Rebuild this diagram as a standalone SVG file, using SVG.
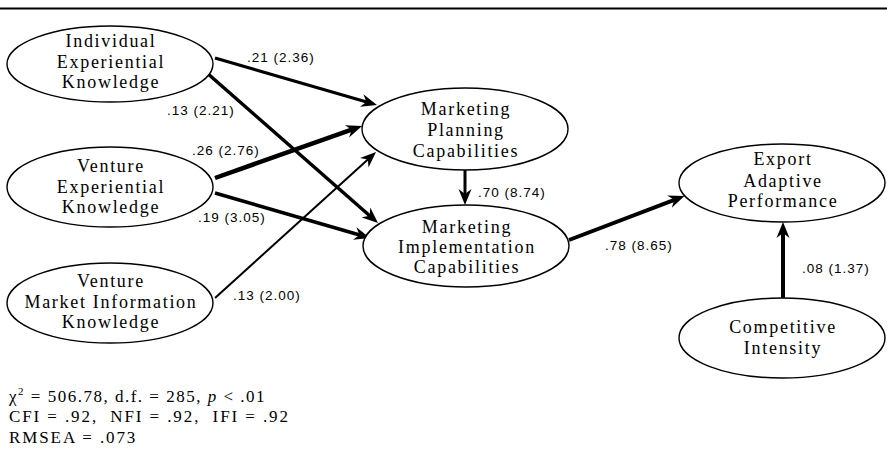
<svg xmlns="http://www.w3.org/2000/svg" width="887" height="450" viewBox="0 0 887 450">
  <style>
    .node ellipse { fill: #fff; stroke: #000; stroke-width: 1.4; }
    .node text { font-family: "Liberation Serif", "Times New Roman", serif; font-size: 18px; letter-spacing: 1.7px; text-anchor: middle; fill: #000; }
    .edge { stroke: #000; fill: none; marker-end: url(#head); }
    .coef { font-family: "Liberation Sans", Arial, sans-serif; font-size: 13.5px; letter-spacing: 1px; fill: #000; }
    .fit { font-family: "Liberation Serif", "Times New Roman", serif; font-size: 17px; letter-spacing: 1.9px; fill: #000; white-space: pre; }
    .fit.chi { letter-spacing: 1.5px; }
  </style>
  <defs>
    <marker id="head" viewBox="0 -7 17 14" refX="8" refY="0" markerWidth="17" markerHeight="14" markerUnits="userSpaceOnUse" orient="auto">
      <path d="M16,0 L0,-6.5 L5,0 L0,6.5 Z" fill="#000"/>
    </marker>
  </defs>

  <rect width="887" height="450" fill="#fff"/>
  <line x1="0" y1="8.5" x2="887" y2="8.5" stroke="#000" stroke-width="2"/>

  <!-- paths between constructs -->
  <g id="connectors">
    <line class="edge" x1="215" y1="58" x2="369.3" y2="102.8" stroke-width="3"/>
    <line class="edge" x1="207" y1="73" x2="372" y2="217.7" stroke-width="3.5"/>
    <line class="edge" x1="215" y1="178" x2="354.5" y2="128.7" stroke-width="4.5"/>
    <line class="edge" x1="215" y1="193" x2="362.3" y2="235.8" stroke-width="3.5"/>
    <line class="edge" x1="215" y1="298" x2="370.1" y2="157.4" stroke-width="2"/>
    <line class="edge" x1="465" y1="170" x2="465" y2="197" stroke-width="3"/>
    <line class="edge" x1="569" y1="240" x2="677" y2="198.8" stroke-width="4"/>
    <line class="edge" x1="783" y1="298" x2="783" y2="230" stroke-width="4"/>
  </g>

  <!-- path coefficients (t-values) -->
  <g id="coefficients">
    <text class="coef" x="247" y="62">.21 (2.36)</text>
    <text class="coef" x="167" y="115">.13 (2.21)</text>
    <text class="coef" x="192" y="155">.26 (2.76)</text>
    <text class="coef" x="198" y="222">.19 (3.05)</text>
    <text class="coef" x="233" y="300">.13 (2.00)</text>
    <text class="coef" x="478" y="197">.70 (8.74)</text>
    <text class="coef" x="605" y="250">.78 (8.65)</text>
    <text class="coef" x="802" y="273">.08 (1.37)</text>
  </g>

  <g id="individual-experiential" class="node">
    <ellipse cx="110" cy="64" rx="103" ry="38"/>
    <text x="111" y="47">Individual</text>
    <text x="111" y="68">Experiential</text>
    <text x="111" y="88">Knowledge</text>
  </g>

  <g id="venture-experiential" class="node">
    <ellipse cx="110" cy="187" rx="103" ry="40"/>
    <text x="111" y="172">Venture</text>
    <text x="111" y="193">Experiential</text>
    <text x="111" y="213">Knowledge</text>
  </g>

  <g id="venture-market-information" class="node">
    <ellipse cx="110" cy="303" rx="103" ry="40"/>
    <text x="111" y="287">Venture</text>
    <text x="111" y="308">Market Information</text>
    <text x="111" y="328">Knowledge</text>
  </g>

  <g id="marketing-planning" class="node">
    <ellipse cx="465" cy="129" rx="103" ry="41"/>
    <text x="466" y="115">Marketing</text>
    <text x="466" y="136">Planning</text>
    <text x="466" y="157">Capabilities</text>
  </g>

  <g id="marketing-implementation" class="node">
    <ellipse cx="466" cy="246" rx="103" ry="41"/>
    <text x="467" y="233">Marketing</text>
    <text x="467" y="253">Implementation</text>
    <text x="467" y="273">Capabilities</text>
  </g>

  <g id="export-adaptive-performance" class="node">
    <ellipse cx="782" cy="183" rx="103" ry="39"/>
    <text x="783" y="165">Export</text>
    <text x="783" y="187">Adaptive</text>
    <text x="783" y="207">Performance</text>
  </g>

  <g id="competitive-intensity" class="node">
    <ellipse cx="782" cy="338" rx="103" ry="40"/>
    <text x="783" y="333">Competitive</text>
    <text x="783" y="354">Intensity</text>
  </g>

  <!-- model fit statistics -->
  <g id="fit-statistics">
    <text class="fit chi" x="9" y="402">χ<tspan font-size="11" dy="-7">2</tspan><tspan dy="7"> = 506.78, d.f. = 285, </tspan><tspan font-style="italic">p</tspan> &lt; .01</text>
    <text class="fit" x="9" y="422">CFI = .92,  NFI = .92,  IFI = .92</text>
    <text class="fit" x="9" y="443">RMSEA = .073</text>
  </g>
</svg>
